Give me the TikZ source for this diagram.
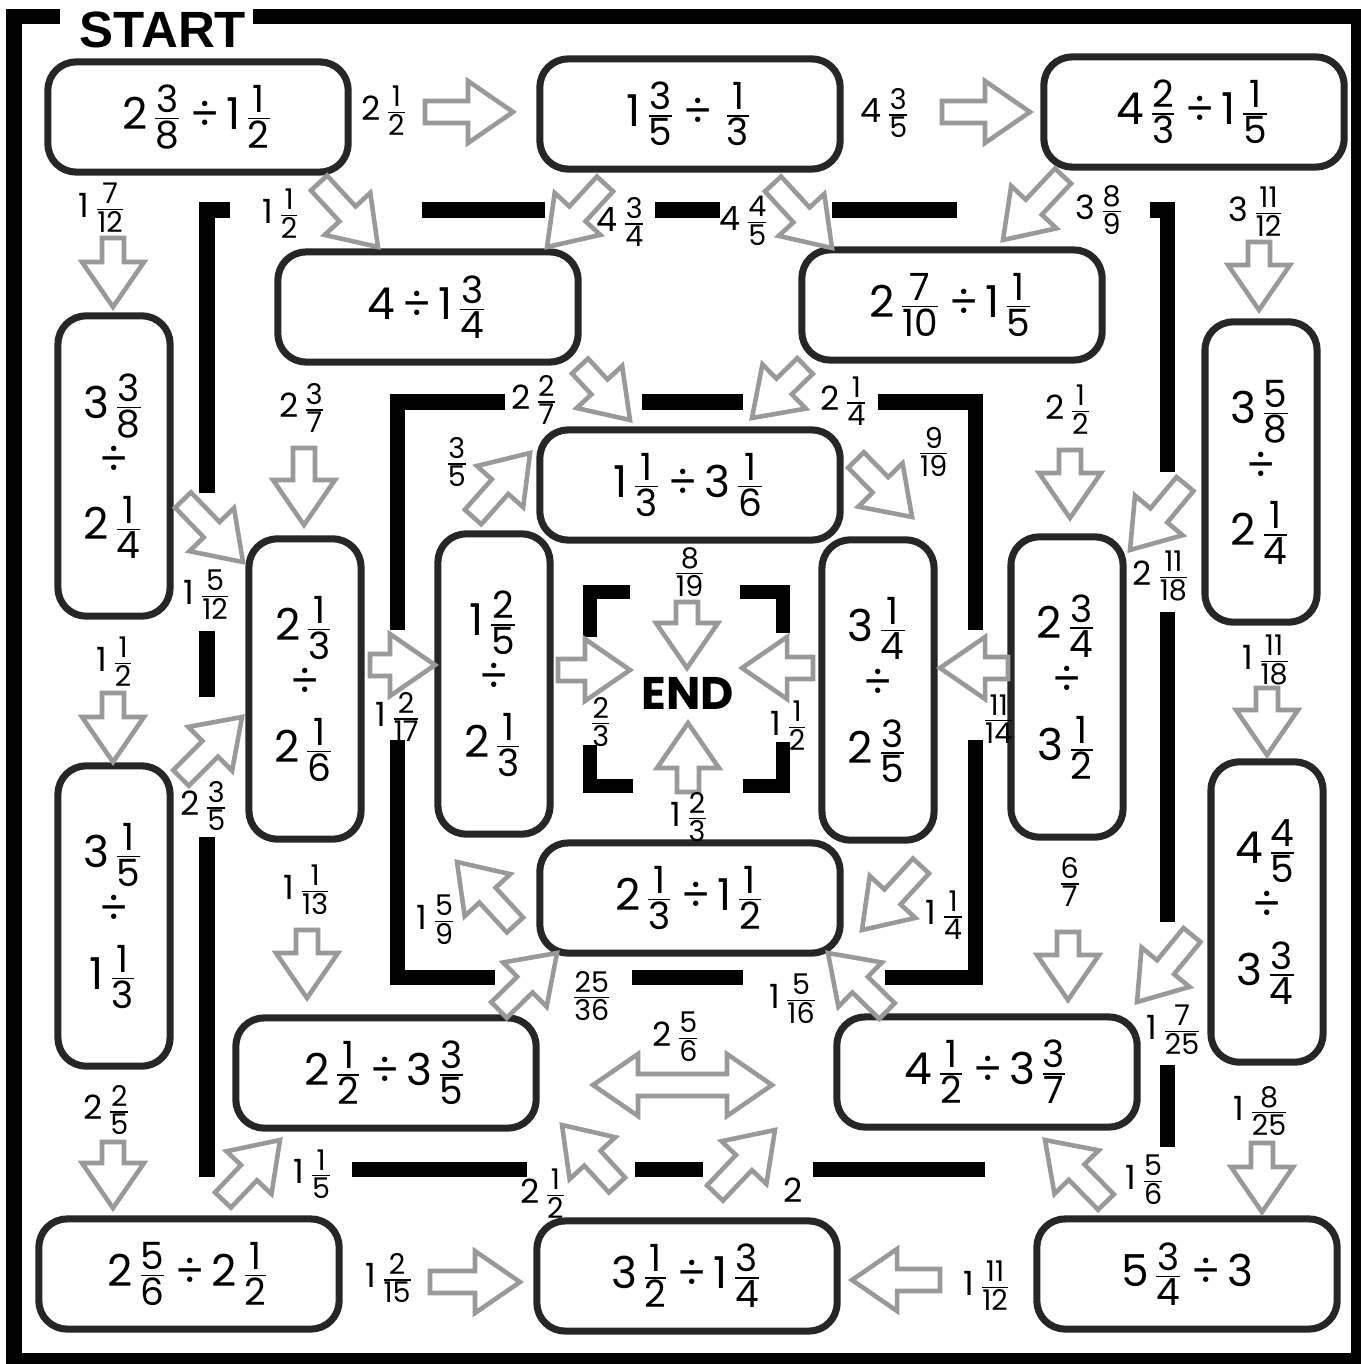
\documentclass[tikz,border=0pt]{standalone}
\usepackage{amsmath}
\usepackage{fontspec}
\setmainfont{Poppins}
\newfontfamily\startfont{Liberation Sans}
\usetikzlibrary{calc}

\newcommand{\fr}[2]{\ensuremath{\kern1pt\genfrac{}{}{0.4pt}{1}{\text{\scalebox{1.22}{#1}}\rule[-1pt]{0pt}{1pt}}{\rule{0pt}{1pt}\text{\scalebox{1.22}{#2}}}}}
\newcommand{\dv}{\kern2pt÷\kern2pt}
\newcommand{\vstack}[3]{\begin{tabular}{@{}c@{}}#1\\[2pt]÷\\[2pt]#3\end{tabular}}
\newcommand{\boxfont}{\fontsize{12.5}{14}\selectfont}
\newcommand{\lblfont}{\fontsize{9.5}{11}\selectfont}

% block arrow from tail #1 to tip #2
\newcommand{\blkarrow}[2]{%
  \coordinate (t) at #1; \coordinate (p) at #2;
  \coordinate (b) at ($(p)!0.45cm!(t)$);
  \draw[fatarrow] ($(t)!0.11cm!90:(p)$) -- ($(b)!0.11cm!-90:(t)$) -- ($(b)!0.31cm!-90:(t)$) -- (p)
    -- ($(b)!0.31cm!90:(t)$) -- ($(b)!0.11cm!90:(t)$) -- ($(t)!0.11cm!-90:(p)$) -- cycle;}

\begin{document}
\begin{tikzpicture}[x=0.01cm, y=-0.01cm,
  box/.style={draw=black!85, line width=2pt, rounded corners=0.28cm, fill=white, minimum width=3cm, minimum height=1.1cm, align=center, font=\boxfont, inner sep=0pt},
  vbox/.style={box, minimum width=1.12cm, minimum height=3cm},
  lbl/.style={font=\lblfont, inner sep=0pt},
  wall/.style={line width=0.15cm},
  fatarrow/.style={draw=gray!80, line width=1.3pt, fill=white, line join=miter}
]
\useasboundingbox (0,0) rectangle (1361,1364);

% outer frame
\draw[wall] (60,17) -- (14,17) -- (14,1360) -- (1358,1360) -- (1358,17) -- (253,17);
\node[font=\startfont\fontsize{14.5}{16}\selectfont\bfseries, inner sep=0pt] (start) at (163,30) {START};

% middle ring
\draw[wall] (230,210) -- (207,210) -- (207,493);
\draw[wall] (207,631) -- (207,697);
\draw[wall] (207,837) -- (207,1177);
\draw[wall] (422,210) -- (545,210);
\draw[wall] (655,210) -- (720,210);
\draw[wall] (832,210) -- (957,210);
\draw[wall] (1150,210) -- (1167,210) -- (1167,472);
\draw[wall] (1167,612) -- (1167,922);
\draw[wall] (1167,1065) -- (1167,1147);
\draw[wall] (352,1169) -- (527,1169);
\draw[wall] (635,1169) -- (703,1169);
\draw[wall] (813,1169) -- (985,1169);

% inner ring
\draw[wall] (505,402) -- (397,402) -- (397,630);
\draw[wall] (642,402) -- (743,402);
\draw[wall] (878,402) -- (975,402) -- (975,630);
\draw[wall] (397,740) -- (397,977) -- (495,977);
\draw[wall] (632,977) -- (743,977);
\draw[wall] (885,977) -- (975,977) -- (975,740);

% end brackets
\draw[line width=0.14cm] (630,592) -- (590,592) -- (590,637);
\draw[line width=0.14cm] (740,592) -- (783,592) -- (783,633);
\draw[line width=0.14cm] (590,745) -- (590,786) -- (633,786);
\draw[line width=0.14cm] (783,742) -- (783,786) -- (743,786);
\node[font=\fontsize{13}{15}\selectfont\bfseries, inner sep=0pt] (end) at (688,693) {END};

% problems
\node[box] (a) at (198,117) {2\fr{3}{8}\dv 1\fr{1}{2}};
\node[box] (b) at (690,114) {1\fr{3}{5}\dv\fr{1}{3}};
\node[box] (c) at (1194,112) {4\fr{2}{3}\dv 1\fr{1}{5}};
\node[box] (d) at (428,307) {4\dv 1\fr{3}{4}};
\node[box] (e) at (952,305) {2\fr{7}{10}\dv 1\fr{1}{5}};
\node[vbox] (f) at (114,466) {\vstack{3\fr{3}{8}}{}{2\fr{1}{4}}};
\node[vbox] (g) at (1261,472) {\vstack{3\fr{5}{8}}{}{2\fr{1}{4}}};
\node[box] (h) at (690,485) {1\fr{1}{3}\dv 3\fr{1}{6}};
\node[vbox] (i) at (305,689) {\vstack{2\fr{1}{3}}{}{2\fr{1}{6}}};
\node[vbox] (j) at (494,684) {\vstack{1\fr{2}{5}}{}{2\fr{1}{3}}};
\node[vbox] (k) at (878,690) {\vstack{3\fr{1}{4}}{}{2\fr{3}{5}}};
\node[vbox] (l) at (1067,687) {\vstack{2\fr{3}{4}}{}{3\fr{1}{2}}};
\node[vbox] (m) at (114,916) {\vstack{3\fr{1}{5}}{}{1\fr{1}{3}}};
\node[vbox] (n) at (1267,912) {\vstack{4\fr{4}{5}}{}{3\fr{3}{4}}};
\node[box] (o) at (690,898) {2\fr{1}{3}\dv 1\fr{1}{2}};
\node[box] (pp) at (386,1073) {2\fr{1}{2}\dv 3\fr{3}{5}};
\node[box] (q) at (987,1072) {4\fr{1}{2}\dv 3\fr{3}{7}};
\node[box] (r) at (189,1274) {2\fr{5}{6}\dv 2\fr{1}{2}};
\node[box] (s) at (687,1276) {3\fr{1}{2}\dv 1\fr{3}{4}};
\node[box] (tt) at (1187,1274) {5\fr{3}{4}\dv 3};

% arrows
\blkarrow{(425,112)}{(513,112)}
\blkarrow{(942,112)}{(1030,112)}
\blkarrow{(319,183)}{(378,247)}
\blkarrow{(113,238)}{(113,307)}
\blkarrow{(605,184)}{(547,247)}
\blkarrow{(773,184)}{(832,248)}
\blkarrow{(1063,176)}{(1003,240)}
\blkarrow{(1259,242)}{(1259,310)}
\blkarrow{(580,366)}{(630,420)}
\blkarrow{(805,366)}{(752,418)}
\blkarrow{(183,500)}{(243,562)}
\blkarrow{(113,693)}{(113,762)}
\blkarrow{(304,448)}{(304,525)}
\blkarrow{(181,778)}{(242,717)}
\blkarrow{(370,665)}{(435,665)}
\blkarrow{(473,517)}{(530,453)}
\blkarrow{(856,460)}{(912,517)}
\blkarrow{(1070,450)}{(1070,518)}
\blkarrow{(1185,484)}{(1130,550)}
\blkarrow{(1267,688)}{(1267,755)}
\blkarrow{(558,670)}{(630,670)}
\blkarrow{(813,668)}{(742,668)}
\blkarrow{(687,602)}{(687,668)}
\blkarrow{(688,792)}{(688,723)}
\blkarrow{(1008,668)}{(940,668)}
\blkarrow{(515,925)}{(457,862)}
\blkarrow{(921,866)}{(862,930)}
\blkarrow{(499,1010)}{(557,953)}
\blkarrow{(887,1011)}{(828,953)}
\blkarrow{(307,930)}{(307,998)}
\blkarrow{(1068,932)}{(1068,1000)}
\blkarrow{(1192,935)}{(1137,1002)}
\blkarrow{(113,1142)}{(113,1208)}
\blkarrow{(1262,1143)}{(1262,1212)}
\blkarrow{(223,1200)}{(280,1140)}
\blkarrow{(430,1282)}{(520,1282)}
\blkarrow{(940,1280)}{(852,1280)}
\blkarrow{(617,1185)}{(562,1125)}
\blkarrow{(715,1193)}{(775,1130)}
\blkarrow{(1106,1202)}{(1045,1140)}
% two-way arrow
\coordinate (dl) at (593,1085); \coordinate (dr) at (772,1085);
\draw[fatarrow] (dl) -- ($(dl)+(45,-31)$) -- ($(dl)+(45,-11)$) -- ($(dr)+(-45,-11)$) -- ($(dr)+(-45,-31)$) -- (dr)
  -- ($(dr)+(-45,31)$) -- ($(dr)+(-45,11)$) -- ($(dl)+(45,11)$) -- ($(dl)+(45,31)$) -- cycle;

% answers
\node[lbl] (l1) at (385,111) {2\fr{1}{2}};
\node[lbl] (l2) at (886,113) {4\fr{3}{5}};
\node[lbl] (l3) at (282,214) {1\fr{1}{2}};
\node[lbl] (l4) at (103,208) {1\fr{7}{12}};
\node[lbl] (l5) at (622,222) {4\fr{3}{4}};
\node[lbl] (l6) at (745,221) {4\fr{4}{5}};
\node[lbl] (l7) at (1100,210) {3\fr{8}{9}};
\node[lbl] (l8) at (1257,212) {3\fr{11}{12}};
\node[lbl] (l9) at (535,400) {2\fr{2}{7}};
\node[lbl] (l10) at (845,401) {2\fr{1}{4}};
\node[lbl] (l11) at (303,408) {2\fr{3}{7}};
\node[lbl] (l12) at (455,462) {\fr{3}{5}};
\node[lbl] (l13) at (932,452) {\fr{9}{19}};
\node[lbl] (l14) at (1069,410) {2\fr{1}{2}};
\node[lbl] (l15) at (208,595) {1\fr{5}{12}};
\node[lbl] (l16) at (116,662) {1\fr{1}{2}};
\node[lbl] (l17) at (205,806) {2\fr{3}{5}};
\node[lbl] (l18) at (399,717) {1\fr{2}{17}};
\node[lbl] (l19) at (1162,576) {2\fr{11}{18}};
\node[lbl] (l20) at (1267,660) {1\fr{11}{18}};
\node[lbl] (l21) at (997,719) {\fr{11}{14}};
\node[lbl] (l22) at (688,572) {\fr{8}{19}};
\node[lbl] (l23) at (599,722) {\fr{2}{3}};
\node[lbl] (l24) at (790,726) {1\fr{1}{2}};
\node[lbl] (l25) at (690,817) {1\fr{2}{3}};
\node[lbl] (l26) at (308,890) {1\fr{1}{13}};
\node[lbl] (l27) at (437,920) {1\fr{5}{9}};
\node[lbl] (l28) at (946,915) {1\fr{1}{4}};
\node[lbl] (l29) at (1068,882) {\fr{6}{7}};
\node[lbl] (l30) at (1175,1030) {1\fr{7}{25}};
\node[lbl] (l31) at (590,996) {\fr{25}{36}};
\node[lbl] (l32) at (794,999) {1\fr{5}{16}};
\node[lbl] (l33) at (677,1037) {2\fr{5}{6}};
\node[lbl] (l34) at (108,1110) {2\fr{2}{5}};
\node[lbl] (l35) at (1262,1111) {1\fr{8}{25}};
\node[lbl] (l36) at (314,1174) {1\fr{1}{5}};
\node[lbl] (l37) at (544,1194) {2\fr{1}{2}};
\node[lbl] (l38) at (793,1190) {2};
\node[lbl] (l39) at (1146,1180) {1\fr{5}{6}};
\node[lbl] (l40) at (390,1278) {1\fr{2}{15}};
\node[lbl] (l41) at (988,1286) {1\fr{11}{12}};
\end{tikzpicture}
\end{document}
